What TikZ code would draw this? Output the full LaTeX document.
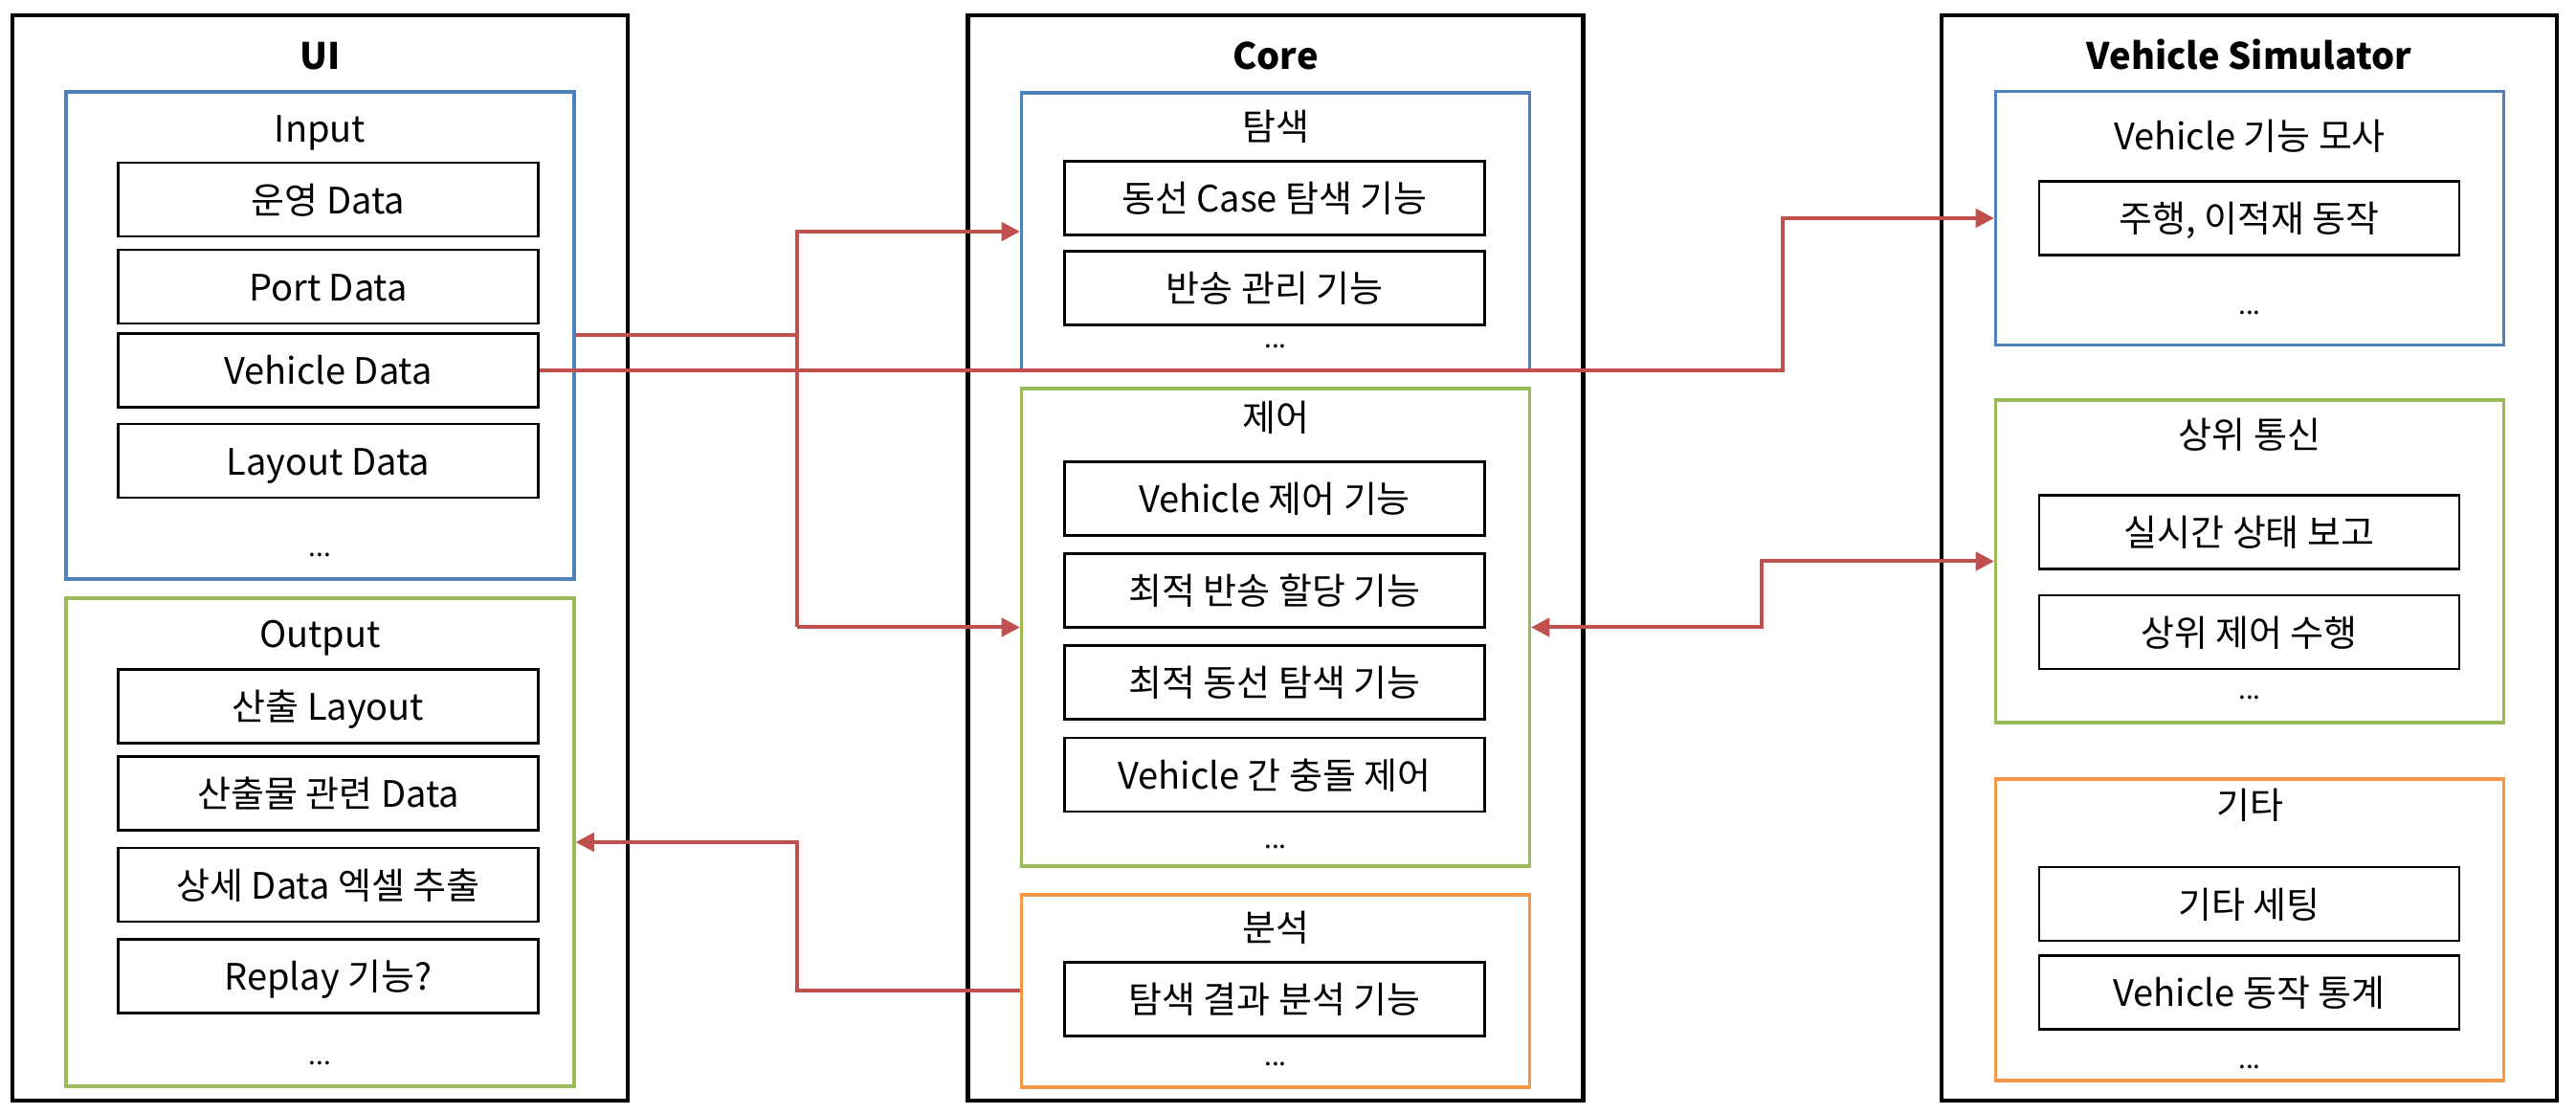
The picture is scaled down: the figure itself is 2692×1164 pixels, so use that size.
\documentclass[tikz,border=0pt]{standalone}
\usepackage{fontspec}
\setmainfont{Noto Sans CJK KR}
\usepackage{xcolor}
\usetikzlibrary{positioning}
\usetikzlibrary{arrows.meta}
\definecolor{linkred}{HTML}{C0504D}
\definecolor{boxblue}{HTML}{4F81BD}
\definecolor{boxgreen}{HTML}{9BBB59}
\definecolor{boxorange}{HTML}{F79646}

\begin{document}
\begin{tikzpicture}[x=0.25pt, y=-0.25pt, font=\fontsize{9.5}{11}\selectfont,
    >={Triangle[length=4.8pt, width=4.8pt]},
    every node/.style={text height=0.9em, text depth=0.16em, inner sep=0pt},
    panel/.style={draw, line width=1.1pt, minimum width=160.75pt, minimum height=283.5pt},
    grp/.style={draw=#1, line width=0.8pt, minimum width=132.75pt},
    item/.style={draw, line width=0.7pt, minimum width=109.75pt, minimum height=19.25pt},
    head/.style={font=\fontsize{9.5}{11}\selectfont\bfseries},
    more/.style={font=\fontsize{7}{8}\selectfont, anchor=base},
    link/.style={draw=linkred, line width=1pt}]
    \useasboundingbox (0,0) rectangle (2692,1164);

    % UI
    \node[panel] (ui) at (334.5,583) {};
    \node[head] (uit) at (334.5,58) {UI};
    \node[grp=boxblue, minimum height=127.25pt] (input) at (334.5,350.5) {};
    \node (inputt) at (334.5,134) {Input};
    \node[item] (opdata) at (343,208.5) {운영 Data};
    \node[item] (portdata) at (343,299.5) {Port Data};
    \node[item] (vdata) at (343,387) {Vehicle Data};
    \node[item] (laydata) at (343,481.5) {Layout Data};
    \node[more] (inmore) at (334.5,582) {...};
    \node[grp=boxgreen, minimum height=127.5pt] (output) at (334.5,880) {};
    \node (outputt) at (334.5,662) {Output};
    \node[item] (outlay) at (343,738) {산출 Layout};
    \node[item] (outdata) at (343,829) {산출물 관련 Data};
    \node[item] (excel) at (343,924.5) {상세 Data 엑셀 추출};
    \node[item] (replay) at (343,1020) {Replay 기능?};
    \node[more] (outmore) at (334.5,1113) {...};

    % Core
    \node[panel] (core) at (1333,583) {};
    \node[head] (coret) at (1333,58) {Core};
    \node[grp=boxblue, minimum height=72.5pt] (search) at (1333,242) {};
    \node (searcht) at (1333,132) {탐색};
    \node[item] (casesearch) at (1332,207) {동선 Case 탐색 기능};
    \node[item] (transfer) at (1332,301) {반송 관리 기능};
    \node[more] (searchmore) at (1333,364) {...};
    \node[grp=boxgreen, minimum height=124.75pt] (control) at (1333,655.5) {};
    \node (controlt) at (1333,436) {제어};
    \node[item] (vctrl) at (1332,521) {Vehicle 제어 기능};
    \node[item] (assign) at (1332,617) {최적 반송 할당 기능};
    \node[item] (route) at (1332,713) {최적 동선 탐색 기능};
    \node[item] (collide) at (1332,809.5) {Vehicle 간 충돌 제어};
    \node[more] (controlmore) at (1333,887) {...};
    \node[grp=boxorange, minimum height=50.25pt] (analysis) at (1333,1035.5) {};
    \node (analysist) at (1333,969) {분석};
    \node[item] (result) at (1332,1044) {탐색 결과 분석 기능};
    \node[more] (analysismore) at (1333,1114) {...};

    % Vehicle Simulator
    \node[panel] (sim) at (2350.5,583) {};
    \node[head] (simt) at (2350.5,58) {Vehicle Simulator};
    \node[grp=boxblue, minimum height=66.1pt] (vehfunc) at (2351,228) {};
    \node (vehfunct) at (2351,141.6) {Vehicle 기능 모사};
    \node[item] (drive) at (2350.5,227.7) {주행, 이적재 동작};
    \node[more] (vehfuncmore) at (2351,329) {...};
    \node[grp=boxgreen, minimum height=84.25pt] (comm) at (2351,586.5) {};
    \node (commt) at (2351,453.5) {상위 통신};
    \node[item] (report) at (2350.5,556) {실시간 상태 보고};
    \node[item] (upper) at (2350.5,660.6) {상위 제어 수행};
    \node[more] (commmore) at (2351,731) {...};
    \node[grp=boxorange, minimum height=78.75pt] (etc) at (2351,971.5) {};
    \node (etct) at (2351,840.7) {기타};
    \node[item] (setting) at (2350.5,944.5) {기타 세팅};
    \node[item] (stats) at (2350.5,1037) {Vehicle 동작 통계};
    \node[more] (etcmore) at (2351,1116.5) {...};

    % connectors
    \coordinate (spine) at (833,0);
    \coordinate (jogv) at (1863,0);
    \coordinate (jogc) at (1841,0);
    \draw[link] (input.east) -- (input.east -| spine);
    \draw[link, ->] (control.west -| spine) |- (search.west);
    \draw[link, ->] (control.west -| spine) -- (control.west);
    \draw[link, ->] (vdata.east) -- (vdata.east -| jogv) |- (vehfunc.west);
    \draw[link, <->] (control.east) -- (control.east -| jogc) |- (comm.west);
    \draw[link, ->] (analysis.west) -- (analysis.west -| spine) |- (output.east);
\end{tikzpicture}
\end{document}
